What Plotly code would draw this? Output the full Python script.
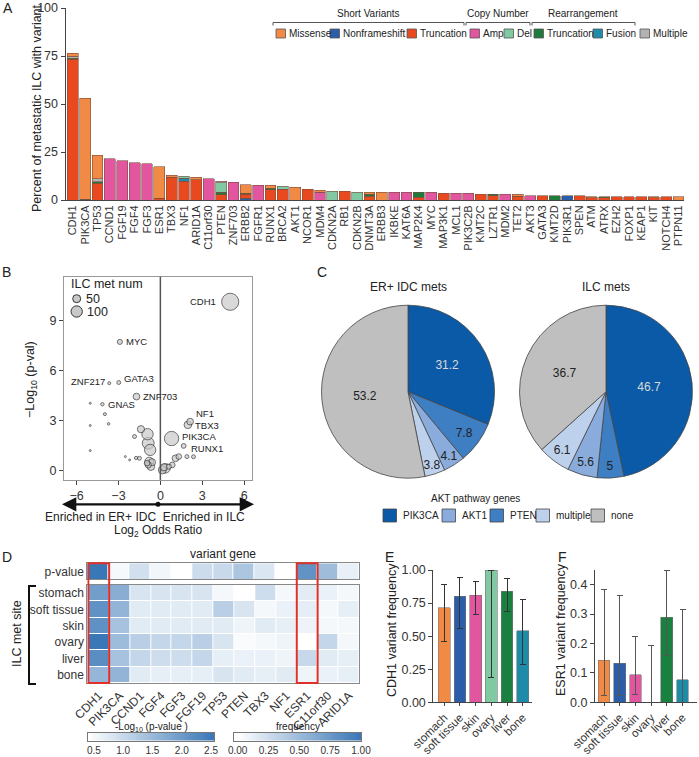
import numpy as np
import plotly.graph_objects as go

W, H = 699, 757
FONT = "Liberation Sans, Arial, sans-serif"

def xd(a, b):
    return [a / W, b / W]

def yd(top, bottom):
    return [1 - bottom / H, 1 - top / H]

def px(x):
    return x / W

def py(y):
    return 1 - y / H

# ---------------- Panel A data ----------------
a_genes = ["CDH1", "PIK3CA", "TP53", "CCND1", "FGF19", "FGF4", "FGF3", "ESR1", "TBX3", "NF1",
           "ARID1A", "C11orf30", "PTEN", "ZNF703", "ERBB2", "FGFR1", "RUNX1", "BRCA2", "AKT1", "NCOR1",
           "MDM4", "CDKN2A", "RB1", "CDKN2B", "DNMT3A", "ERBB3", "IKBKE", "KAT6A", "MAP2K4", "MYC",
           "MAP3K1", "MCL1", "PIK3C2B", "KMT2C", "LZTR1", "MDM2", "TET2", "AKT3", "GATA3", "KMT2D",
           "PIK3R1", "SPEN", "ATM", "ATRX", "EZH2", "FOXP1", "KEAP1", "KIT", "NOTCH4", "PTPN11"]
a_missense = [1.5, 52.6, 12.3, 0, 0, 0, 0, 16.4, 1.2, 0,
              1.2, 0, 0, 0, 4.5, 0, 1.6, 0, 6.6, 0,
              1.0, 0, 0, 0, 1.0, 4.0, 0, 0, 0, 0,
              0, 0, 0, 0, 0, 0, 0.9, 0, 0, 0,
              0, 0, 0.6, 0, 0, 0, 0, 0.6, 0, 1.8]
a_nonframeshift = [0, 0, 0, 0, 0, 0, 0, 0, 0, 0,
                   0, 0, 0, 0, 1.0, 0, 0, 0, 0, 0,
                   0, 0, 0, 0, 0, 0, 0, 0, 0, 0,
                   0, 0, 0, 0, 0, 0, 0, 0, 0, 0,
                   2.3, 0, 0, 0, 0, 0, 0, 0, 0, 0]
a_truncation = [73.3, 0, 8.8, 0, 0, 0, 0, 0.8, 11.8, 9.8,
                10.6, 0, 2.8, 0, 2.0, 0, 5.4, 5.6, 0, 5.6,
                0, 0, 4.5, 0, 2.0, 0, 0, 0, 1.5, 0,
                3.4, 0, 0, 2.9, 2.2, 0, 2.0, 0, 2.3, 0,
                0, 2.3, 1.2, 1.3, 1.8, 1.8, 1.8, 1.2, 1.8, 0]
a_amp = [0, 0, 0, 21.6, 20.4, 19.4, 19.0, 0, 0, 0,
         0, 11.2, 0, 9.3, 0, 7.7, 0, 0, 0, 0,
         4.1, 0, 0, 0, 0, 0, 4.0, 4.0, 0, 4.0,
         0, 3.4, 3.4, 0, 0, 2.9, 0, 2.3, 0, 0,
         0, 0, 0, 0, 0, 0, 0, 0, 0, 0]
a_del = [0, 0, 0, 0, 0, 0, 0, 0, 0, 0.9,
         0, 0, 5.0, 0, 0, 0, 0, 1.6, 0, 0,
         0, 4.6, 0, 4.1, 0, 0, 0, 0, 0, 0,
         0, 0, 0, 0, 0, 0, 0, 0, 0, 0,
         0, 0, 0, 0, 0, 0, 0, 0, 0, 0]
a_rearr_trunc = [0.5, 0.4, 0.8, 0, 0, 0, 0, 0, 0, 0,
                 0, 0, 1.2, 0, 0.5, 0, 0.8, 0, 0, 0,
                 0, 0, 0, 0, 1.0, 0, 0, 0, 2.5, 0,
                 0, 0, 0, 0, 0.7, 0, 0, 0, 0, 2.3,
                 0, 0, 0, 0.5, 0, 0, 0, 0, 0, 0]
a_fusion = [0, 0, 0, 0, 0, 0, 0, 0, 0, 1.6,
            0, 0, 0, 0, 0, 0, 0, 0, 0, 0,
            0, 0, 0, 0, 0, 0, 0, 0, 0, 0,
            0, 0, 0, 0, 0, 0, 0, 0, 0, 0,
            0, 0, 0, 0, 0, 0, 0, 0, 0, 0]
a_multiple = [1.2, 0, 1.5, 0, 0, 0, 0, 0, 0, 0,
              0, 0, 0.8, 0, 0, 0, 0, 0, 0, 0,
              0, 0, 0, 0, 0, 0, 0, 0, 0, 0,
              0, 0, 0, 0, 0, 0, 0, 0, 0, 0,
              0, 0, 0, 0, 0, 0, 0, 0, 0, 0]
a_yticks = [0, 25, 50, 75, 100]

C_MIS, C_NFS, C_TRU = "#F08A45", "#2B5DA8", "#E8491E"
C_AMP, C_DEL = "#E2559F", "#80C9A3"
C_RTR, C_FUS, C_MUL = "#1E7B3C", "#1E8CA8", "#B3B3B3"

# ---------------- Panel B data ----------------
b_genes = ["CDH1", "MYC", "ZNF217", "GATA3", "ZNF703", "GNAS", "NF1", "TBX3", "PIK3CA", "RUNX1",
           "", "", "", "", "", "", "", "", "", "",
           "", "", "", "", "", "", "", "", "", "",
           "", "", "", "", "", "", "", ""]
b_log2or = [5.0, -2.9, -3.66, -2.98, -1.71, -4.15, 2.13, 1.97, 0.8, 1.67,
            -3.97, -3.71, -5.02, -5.02, -5.02, -1.39, -0.92, -0.87, -0.73, -1.85,
            -2.51, -2.2, -1.74, -1.5, -0.8, -0.68, -0.87, 0.37, 1.08, 1.32,
            0.85, 0.61, 0.14, 0.26, 1.9, 2.37, -0.6, -0.95]
b_neglogp = [10.1, 7.7, 5.23, 5.27, 4.43, 3.97, 2.93, 2.74, 1.92, 1.48,
             3.38, 2.8, 4.03, 2.7, 1.2, 2.48, 2.18, 1.64, 1.24, 2.04,
             0.84, 0.64, 0.76, 0.74, 0.54, 0.24, 0.34, 0.14, 0.74, 0.84,
             0.34, 0.24, 0.04, 0.2, 0.84, 0.83, 0.5, 0.45]
b_num = [230, 20, 7, 12, 35, 9, 35, 45, 160, 18,
         7, 5, 3, 3, 3, 40, 100, 110, 100, 12,
         3, 3, 8, 12, 60, 45, 30, 70, 35, 25,
         25, 20, 50, 40, 12, 12, 40, 25]
b_xticks = [-6, -3, 0, 3, 6]
b_yticks = [0, 3, 6, 9]
b_legend_num = [50, 100]

# ---------------- Panel C data ----------------
c_labels = ["PIK3CA", "PTEN", "AKT1", "multiple", "none"]
c_idc = [31.2, 7.8, 4.1, 3.8, 53.2]
c_ilc = [46.7, 5, 5.6, 6.1, 36.7]
c_legend_order = ["PIK3CA", "AKT1", "PTEN", "multiple", "none"]
c_colors = {"PIK3CA": "#0B5AA7", "AKT1": "#89ACDC", "PTEN": "#3E7EC3",
            "multiple": "#BDD0EC", "none": "#BFBFBF"}

# ---------------- Panel D data ----------------
d_genes = ["CDH1", "PIK3CA", "CCND1", "FGF4", "FGF3", "FGF19", "TP53", "PTEN", "TBX3", "NF1",
           "ESR1", "C11orf30", "ARID1A"]
d_sites = ["stomach", "soft tissue", "skin", "ovary", "liver", "bone"]
d_pval = [2.55, 0.5, 0.9, 0.55, 0.4, 0.95, 1.0, 1.3, 0.8, 0.4, 2.1, 1.45, 0.65]
d_freq = [
    [0.71, 0.60, 0.20, 0.20, 0.20, 0.20, 0.05, 0.00, 0.25, 0.05, 0.14, 0.10, 0.05],
    [0.80, 0.55, 0.15, 0.15, 0.15, 0.15, 0.35, 0.20, 0.05, 0.10, 0.13, 0.05, 0.12],
    [0.81, 0.45, 0.15, 0.15, 0.15, 0.15, 0.15, 0.08, 0.15, 0.12, 0.09, 0.05, 0.05],
    [1.00, 0.50, 0.35, 0.30, 0.30, 0.35, 0.20, 0.03, 0.05, 0.08, 0.00, 0.30, 0.05],
    [0.84, 0.45, 0.30, 0.25, 0.25, 0.30, 0.12, 0.10, 0.10, 0.08, 0.29, 0.15, 0.12],
    [0.54, 0.55, 0.15, 0.12, 0.12, 0.12, 0.20, 0.15, 0.12, 0.15, 0.08, 0.10, 0.12],
]
d_highlight = ["CDH1", "ESR1"]
d_pticks = [0.5, 1.0, 1.5, 2.0, 2.5]
d_fticks = [0.0, 0.25, 0.5, 0.75, 1.0]
BLUES = [[0, "#FFFFFF"], [1, "#3A77B6"]]

# ---------------- Panels E/F data ----------------
ef_sites = ["stomach", "soft tissue", "skin", "ovary", "liver", "bone"]
ef_colors = ["#F08A45", "#2B5DA8", "#E2559F", "#80C9A3", "#1A8040", "#1E8CA8"]
e_cdh1 = [0.715, 0.80, 0.81, 1.00, 0.84, 0.54]
e_lo = [0.46, 0.56, 0.665, 0.19, 0.69, 0.285]
e_hi = [0.89, 0.945, 0.915, 1.00, 0.935, 0.78]
e_yticks = [0, 0.25, 0.5, 0.75, 1.0]
f_esr1 = [0.143, 0.133, 0.093, 0.0, 0.29, 0.077]
f_lo = [0.022, 0.022, 0.025, 0.0, 0.16, 0.0]
f_hi = [0.383, 0.362, 0.225, 0.193, 0.45, 0.316]
f_yticks = [0, 0.1, 0.2, 0.3, 0.4]

fig = go.Figure()
annotations = []
shapes = []

def ann(text, x, y, size=12, xanchor="center", yanchor="middle", angle=0, color="#222"):
    annotations.append(dict(text=text, x=px(x), y=py(y), xref="paper", yref="paper",
                            showarrow=False, font=dict(size=size, color=color, family=FONT),
                            xanchor=xanchor, yanchor=yanchor, textangle=angle))

def rect(x0, y0, x1, y1, fill, line="#555", lw=0.8):
    shapes.append(dict(type="rect", xref="paper", yref="paper", x0=px(x0), x1=px(x1),
                       y0=py(y1), y1=py(y0), fillcolor=fill, line=dict(color=line, width=lw)))

def line(x0, y0, x1, y1, color="#444", w=1):
    shapes.append(dict(type="line", xref="paper", yref="paper", x0=px(x0), x1=px(x1),
                       y0=py(y0), y1=py(y1), line=dict(color=color, width=w)))

# ---------------- Panel A ----------------
a_series = [("Nonframeshift", a_nonframeshift, C_NFS), ("Truncation", a_truncation, C_TRU),
            ("Rearr. truncation", a_rearr_trunc, C_RTR), ("Fusion", a_fusion, C_FUS),
            ("Amp", a_amp, C_AMP), ("Del", a_del, C_DEL), ("Multiple", a_multiple, C_MUL),
            ("Missense", a_missense, C_MIS)]
for name, vals, col in a_series:
    fig.add_trace(go.Bar(x=a_genes, y=[v if v > 0 else None for v in vals], name=name,
                         marker=dict(color=col, line=dict(color="#7A5040", width=0.6)),
                         xaxis="x", yaxis="y", hoverinfo="skip"))

ann("Short Variants", 368, 13.5, size=10)
ann("Copy Number", 498, 13.5, size=10)
ann("Rearrangement", 583, 13.5, size=10)
for (x0, x1) in [(273, 464), (466, 530), (532, 635)]:
    line(x0, 22.5, x1, 22.5, "#555", 1)
    line(x0, 22.5, x0, 25.5, "#555", 1)
    line(x1, 22.5, x1, 25.5, "#555", 1)
a_leg = [(276, "Missense", C_MIS), (330, "Nonframeshift", C_NFS), (407, "Truncation", C_TRU),
         (470, "Amp", C_AMP), (504, "Del", C_DEL), (534, "Truncation", C_RTR),
         (593, "Fusion", C_FUS), (640, "Multiple", C_MUL)]
for x0, lab, col in a_leg:
    rect(x0, 29, x0 + 9.5, 38, col, "#555", 0.8)
    ann(lab, x0 + 11, 33.5, size=10, xanchor="left")
ann("Percent of metastatic ILC with variant", 37, 108, size=12.5, angle=-90)
ann("A", 8, 8, size=14)

# ---------------- Panel B ----------------
order = np.argsort(b_num)[::-1]
fig.add_trace(go.Scatter(
    x=[b_log2or[i] for i in order], y=[b_neglogp[i] for i in order], mode="markers",
    marker=dict(size=[8 * np.sqrt(b_num[i] / 50) for i in order], color="#C9C9C9",
                line=dict(color="#333", width=1)),
    xaxis="x2", yaxis="y2", hoverinfo="skip"))
shapes.append(dict(type="line", xref="x2", yref="y2 domain", x0=0, x1=0, y0=0, y1=1,
                   line=dict(color="#555", width=1.5)))
b_label_style = {"CDH1": ("right", -12, 0), "MYC": ("left", 4, 0), "ZNF217": ("right", -2, 2),
                 "GATA3": ("left", 3, 4), "ZNF703": ("left", 5, 0), "GNAS": ("left", 4, 0),
                 "NF1": ("left", 4, 8), "TBX3": ("left", 5, -1), "PIK3CA": ("left", 8, 2),
                 "RUNX1": ("left", 5, -2.5)}
for g, xv, yv in zip(b_genes, b_log2or, b_neglogp):
    if g:
        xa, xs, ys = b_label_style[g]
        annotations.append(dict(text=g, x=xv, y=yv, xref="x2", yref="y2", showarrow=False,
                                xanchor=xa, yanchor="middle", xshift=xs, yshift=ys,
                                font=dict(size=9.5, color="#222", family=FONT)))
ann("ILC met num", 69, 284, size=12.5, xanchor="left")
for n, yc, tx in zip(b_legend_num, [298.7, 311.5], [84, 85]):
    d = 8 * np.sqrt(n / 50)
    shapes.append(dict(type="circle", xref="paper", yref="paper", x0=px(76.7 - d / 2),
                       x1=px(76.7 + d / 2), y0=py(yc + d / 2), y1=py(yc - d / 2),
                       fillcolor="#C9C9C9", line=dict(color="#333", width=1)))
    ann(str(n), tx, yc, size=12.5, xanchor="left")
ann("\u2212Log<sub>10</sub> (p-val)", 31, 380, size=12.5, angle=-90)
annotations.append(dict(x=px(62), y=py(504.3), xref="paper", yref="paper", ax=96, ay=0,
                        axref="pixel", ayref="pixel", showarrow=True, arrowhead=2,
                        arrowsize=1.3, arrowwidth=2.2, arrowcolor="#111", text=""))
annotations.append(dict(x=px(254), y=py(504.3), xref="paper", yref="paper", ax=-96, ay=0,
                        axref="pixel", ayref="pixel", showarrow=True, arrowhead=2,
                        arrowsize=1.3, arrowwidth=2.2, arrowcolor="#111", text=""))
shapes.append(dict(type="circle", xref="paper", yref="paper", x0=px(155.5), x1=px(160.5),
                   y0=py(506.8), y1=py(501.8), fillcolor="#111", line=dict(color="#111", width=0)))
ann("Enriched in ER+ IDC&#160;&#160;Enriched in ILC", 145, 517, size=12)
ann("Log<sub>2</sub> Odds Ratio", 158, 531, size=12)
ann("B", 6, 272, size=14)

# ---------------- Panel C ----------------
for vals, (cx, cy), title in [(c_idc, (408, 391.7), "ER+ IDC mets"), (c_ilc, (606, 391.7), "ILC mets")]:
    r = 86.5
    fig.add_trace(go.Pie(
        values=vals, labels=c_labels, text=[str(v) for v in vals], textinfo="text",
        sort=False, direction="clockwise", rotation=0,
        domain=dict(x=xd(cx - r, cx + r), y=yd(cy - r, cy + r)),
        marker=dict(colors=[c_colors[l] for l in c_labels], line=dict(color="#444", width=0.8)),
        textposition="inside", insidetextorientation="horizontal",
        insidetextfont=dict(size=12, family=FONT,
                            color=["#D9D9D9", "#222", "#222", "#222", "#222"]),
        hoverinfo="skip", showlegend=False))
    ann(title, cx, 287, size=12)
ann("C", 322, 272, size=14)
ann("AKT pathway genes", 475, 498, size=10)
c_leg_x = [383, 442, 490, 536, 591]
for x0, lab in zip(c_leg_x, c_legend_order):
    rect(x0, 509, x0 + 13.5, 522, c_colors[lab], "#444", 0.8)
    ann(lab, x0 + 17.5, 515.5, size=10, xanchor="left")

# ---------------- Panel D ----------------
fig.add_trace(go.Heatmap(z=[d_pval], x=d_genes, y=["p-value"], colorscale=BLUES, showscale=False,
                         xgap=1, xaxis="x3", yaxis="y3", hoverinfo="skip"))
fig.add_trace(go.Heatmap(z=d_freq, x=d_genes, y=d_sites, colorscale=BLUES, zmin=0, zmax=1,
                         showscale=False, xgap=1, ygap=1, xaxis="x4", yaxis="y4", hoverinfo="skip"))
for g in d_highlight:
    k = d_genes.index(g)
    shapes.append(dict(type="rect", xref="x4", yref="paper", x0=k - 0.5, x1=k + 0.5,
                       y0=py(683), y1=py(563.3), line=dict(color="#E0302A", width=2)))
ann("variant gene", 223, 554, size=12)
ann("D", 7, 557, size=14)
ann("ILC met site", 17, 634, size=12.5, angle=-90)
line(29, 586, 29, 684, "#111", 2)
line(28, 586, 36, 586, "#111", 2)
line(28, 684, 36, 684, "#111", 2)
pmin, pmax = min(d_pval), max(d_pval)
p_grad = list(np.linspace(pmin, pmax, 120))
fig.add_trace(go.Heatmap(z=[p_grad], x=p_grad, y=[0], colorscale=BLUES, showscale=False,
                         xaxis="x7", yaxis="y7", hoverinfo="skip"))
f_grad = list(np.linspace(0, 1, 120))
fig.add_trace(go.Heatmap(z=[f_grad], x=f_grad, y=[0], colorscale=BLUES, showscale=False,
                         xaxis="x8", yaxis="y8", hoverinfo="skip"))
ann("-Log<sub>10</sub> (p-value )", 151, 726.5, size=10)
ann("frequency", 298, 726.5, size=10)

# ---------------- Panels E / F ----------------
fig.add_trace(go.Bar(
    x=ef_sites, y=e_cdh1, width=0.75,
    marker=dict(color=ef_colors, line=dict(color="#777", width=0.6)),
    error_y=dict(type="data", symmetric=False,
                 array=[h - v for h, v in zip(e_hi, e_cdh1)],
                 arrayminus=[v - l for v, l in zip(e_cdh1, e_lo)],
                 color="#333", thickness=1, width=3),
    xaxis="x5", yaxis="y5", hoverinfo="skip"))
fig.add_trace(go.Bar(
    x=ef_sites, y=f_esr1, width=0.75,
    marker=dict(color=ef_colors, line=dict(color="#777", width=0.6)),
    error_y=dict(type="data", symmetric=False,
                 array=[h - v for h, v in zip(f_hi, f_esr1)],
                 arrayminus=[v - l for v, l in zip(f_esr1, f_lo)],
                 color="#555", thickness=1, width=3),
    xaxis="x6", yaxis="y6", hoverinfo="skip"))
ann("CDH1 variant frequency", 392, 630, size=12.5, angle=-90)
ann("ESR1 variant frequency", 561, 630, size=12.5, angle=-90)
ann("E", 390, 557, size=14)
ann("F", 562, 557, size=14)

axis_common = dict(showgrid=False, zeroline=False, color="#333", automargin=False)
tf = lambda s: dict(size=s, family=FONT, color="#333")

fig.update_layout(
    width=W, height=H, autosize=False,
    margin=dict(l=0, r=0, t=0, b=0, pad=0, autoexpand=False),
    paper_bgcolor="white", plot_bgcolor="white", showlegend=False,
    font=dict(family=FONT, size=12, color="#222"),
    barmode="stack", bargap=0.12,
    uniformtext=dict(minsize=12, mode="show"),
    xaxis=dict(domain=xd(65.5, 684), anchor="y", type="category", range=[-0.59, 49.45],
               tickmode="array", tickvals=a_genes, ticktext=a_genes,
               tickangle=-90, tickfont=tf(11), showline=True, linecolor="#444", ticks="",
               **axis_common),
    yaxis=dict(domain=yd(8, 200), anchor="x", range=[0, 100], tickvals=a_yticks,
               ticks="outside", ticklen=4, tickcolor="#444", showline=True, linecolor="#444",
               tickfont=tf(12.5), **axis_common),
    xaxis2=dict(domain=xd(64, 252), anchor="y2", range=[-6.9, 6.56], tickvals=b_xticks,
                ticks="outside", ticklen=4, tickcolor="#444", showline=True, mirror=True,
                linecolor="#999", tickfont=tf(12.5), **axis_common),
    yaxis2=dict(domain=yd(276.7, 480), anchor="x2", range=[-0.56, 11.6], tickvals=b_yticks,
                ticks="outside", ticklen=4, tickcolor="#444", showline=True, mirror=True,
                linecolor="#999", tickfont=tf(12.5), **axis_common),
    xaxis3=dict(domain=xd(87.3, 359.3), anchor="y3", type="category", showticklabels=False,
                ticks="", showline=True, mirror=True, linecolor="#888", **axis_common),
    yaxis3=dict(domain=yd(563.3, 579.3), anchor="x3", type="category", ticks="",
                showline=True, mirror=True, linecolor="#888", tickfont=tf(12), **axis_common),
    xaxis4=dict(domain=xd(87.3, 359.3), anchor="y4", type="category", tickangle=-45,
                tickmode="array", tickvals=d_genes, ticktext=d_genes,
                ticks="", showline=True, mirror=True, linecolor="#888", tickfont=tf(12),
                **axis_common),
    yaxis4=dict(domain=yd(585, 683), anchor="x4", type="category", autorange="reversed",
                ticks="", showline=True, mirror=True, linecolor="#888", tickfont=tf(12),
                **axis_common),
    xaxis5=dict(domain=xd(433.3, 531.7), anchor="y5", type="category", range=[-0.7, 5.57],
                tickmode="array", tickvals=ef_sites, ticktext=ef_sites,
                tickangle=-45, ticks="outside", ticklen=3, tickcolor="#444", showline=True,
                linecolor="#444", tickfont=tf(11.5), **axis_common),
    yaxis5=dict(domain=yd(570, 702.3), anchor="x5", range=[0, 1.0], tickvals=e_yticks,
                tickformat=".2f", ticks="outside", ticklen=4, tickcolor="#444", showline=True,
                linecolor="#444", tickfont=tf(12.5), **axis_common),
    xaxis6=dict(domain=xd(595, 697), anchor="y6", type="category", range=[-0.58, 5.92],
                tickmode="array", tickvals=ef_sites, ticktext=ef_sites,
                tickangle=-45, ticks="outside", ticklen=3, tickcolor="#444", showline=True,
                linecolor="#444", tickfont=tf(11.5), **axis_common),
    yaxis6=dict(domain=yd(570, 702.3), anchor="x6", range=[0, 0.45], tickvals=f_yticks,
                tickformat=".1f", ticks="outside", ticklen=4, tickcolor="#444", showline=True,
                linecolor="#444", tickfont=tf(12.5), **axis_common),
    xaxis7=dict(domain=xd(88, 214), anchor="y7", range=[pmin, pmax], tickvals=d_pticks,
                tickformat=".1f", ticks="", showline=True,
                mirror=True, linecolor="#777", tickfont=tf(10), **axis_common),
    yaxis7=dict(domain=yd(733, 740.5), anchor="x7", showticklabels=False, ticks="",
                showline=True, mirror=True, linecolor="#777", **axis_common),
    xaxis8=dict(domain=xd(234, 361), anchor="y8", range=[-0.03, 1.0], tickvals=d_fticks,
                tickformat=".2f", ticks="", showline=True,
                mirror=True, linecolor="#777", tickfont=tf(10), **axis_common),
    yaxis8=dict(domain=yd(733, 740.5), anchor="x8", showticklabels=False, ticks="",
                showline=True, mirror=True, linecolor="#777", **axis_common),
    annotations=annotations, shapes=shapes,
)

fig.write_html("out.html", config={"displayModeBar": False},
               post_script="document.body.style.margin='0px';document.body.style.overflow='hidden';")
